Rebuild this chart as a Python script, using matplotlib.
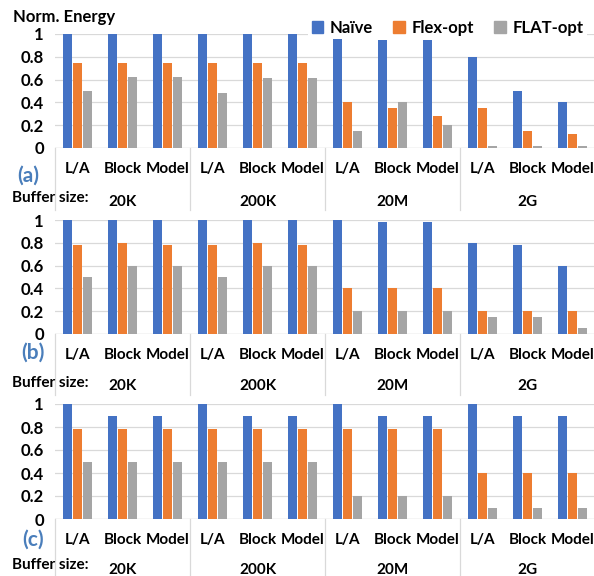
import numpy as np
import matplotlib
matplotlib.use("Agg")
import matplotlib.pyplot as plt
from matplotlib.patches import Patch

plt.rcParams["font.family"] = ["Lato", "DejaVu Sans"]
plt.rcParams["font.weight"] = "bold"

series = ["Naïve", "Flex-opt", "FLAT-opt"]
colors = ["#4472c4", "#ed7d31", "#a5a5a5"]
categories = ["L/A", "Block", "Model"] * 4
buffers = ["20K", "200K", "20M", "2G"]
panels = ["(a)", "(b)", "(c)"]

naive_a = [1, 1, 1, 1, 1, 1, 1, 0.95, 0.95, 0.8, 0.5, 0.4]
flex_a = [0.75, 0.75, 0.75, 0.75, 0.75, 0.75, 0.4, 0.35, 0.28, 0.35, 0.15, 0.12]
flat_a = [0.5, 0.62, 0.62, 0.48, 0.61, 0.61, 0.15, 0.4, 0.2, 0.02, 0.02, 0.02]

naive_b = [1, 1, 1, 1, 1, 1, 1, 0.98, 0.98, 0.8, 0.78, 0.6]
flex_b = [0.78, 0.8, 0.78, 0.78, 0.8, 0.78, 0.4, 0.4, 0.4, 0.2, 0.2, 0.2]
flat_b = [0.5, 0.6, 0.6, 0.5, 0.6, 0.6, 0.2, 0.2, 0.2, 0.15, 0.15, 0.05]

naive_c = [1, 0.9, 0.9, 1, 0.9, 0.9, 1, 0.9, 0.9, 1, 0.9, 0.9]
flex_c = [0.78, 0.78, 0.78, 0.78, 0.78, 0.78, 0.78, 0.78, 0.78, 0.4, 0.4, 0.4]
flat_c = [0.5, 0.5, 0.5, 0.5, 0.5, 0.5, 0.2, 0.2, 0.2, 0.1, 0.1, 0.1]

data = [
    [naive_a, flex_a, flat_a],
    [naive_b, flex_b, flat_b],
    [naive_c, flex_c, flat_c],
]

W, H = 594, 576
fig = plt.figure(figsize=(W / 100, H / 100), dpi=100)

# panel layout in pixels: (top of axes, bottom of axes)
boxes = [(34, 148), (220, 334), (404, 519)]
label_pos = [(28, 176), (33, 353), (33, 540)]
buf_y = [198, 383, 565]
grp_y = [202, 386, 570]
sep_len = [62, 61, 60]
grid_c = "#d9d9d9"

x = np.arange(len(categories))
for i, (top, bot) in enumerate(boxes):
    ax = fig.add_axes([55 / W, 1 - bot / H, 540 / W, (bot - top) / H])
    for k, vals in enumerate(data[i]):
        ax.bar(x + (k - 1) * 0.222, vals, width=0.18, color=colors[k], zorder=3)
    ax.set_xlim(-0.5, 11.5)
    ax.set_ylim(0, 1)
    ax.set_yticks(np.arange(0, 1.01, 0.2))
    ax.set_yticklabels(["0", "0.2", "0.4", "0.6", "0.8", "1"], fontsize=12)
    ax.tick_params(axis="y", length=0, pad=8)
    ax.set_xticks([])
    ax.grid(axis="y", color=grid_c, lw=0.9, zorder=0)
    for s in ax.spines.values():
        s.set_visible(False)
    ax.axhline(0, color=grid_c, lw=0.9, zorder=2)

    tr = ax.get_xaxis_transform()
    h = bot - top
    for j, c in enumerate(categories):
        ax.text(x[j], -21 / h, c, transform=tr, ha="center", va="center",
                fontsize=11, clip_on=False)
    for g in range(5):
        ax.plot([g * 3 - 0.5] * 2, [0, -sep_len[i] / h], transform=tr,
                color=grid_c, lw=0.9, clip_on=False)
    for g, b in enumerate(buffers):
        ax.text(g * 3 + 1, -(grp_y[i] - bot) / h, b, transform=tr,
                ha="center", va="center", fontsize=11, clip_on=False)

    fig.text(label_pos[i][0] / W, 1 - label_pos[i][1] / H, panels[i],
             color="#4a7ebb", fontsize=15, ha="center", va="center")
    fig.text(12 / W, 1 - buf_y[i] / H, "Buffer size:", fontsize=11,
             ha="left", va="center")

    if i == 0:
        handles = [Patch(color=c) for c in colors]
        leg = ax.legend(handles, series, ncol=3, loc="center right",
                        bbox_to_anchor=(1.0, 1.055), frameon=True,
                        facecolor="white", edgecolor="none", framealpha=1,
                        handlelength=0.7, handleheight=0.7, handletextpad=0.4,
                        columnspacing=1.2, borderpad=0.2, fontsize=12)
        leg.set_zorder(10)

fig.text(13 / W, 1 - 17 / H, "Norm. Energy", fontsize=12, ha="left", va="center")

plt.savefig("out.png", dpi=100)
